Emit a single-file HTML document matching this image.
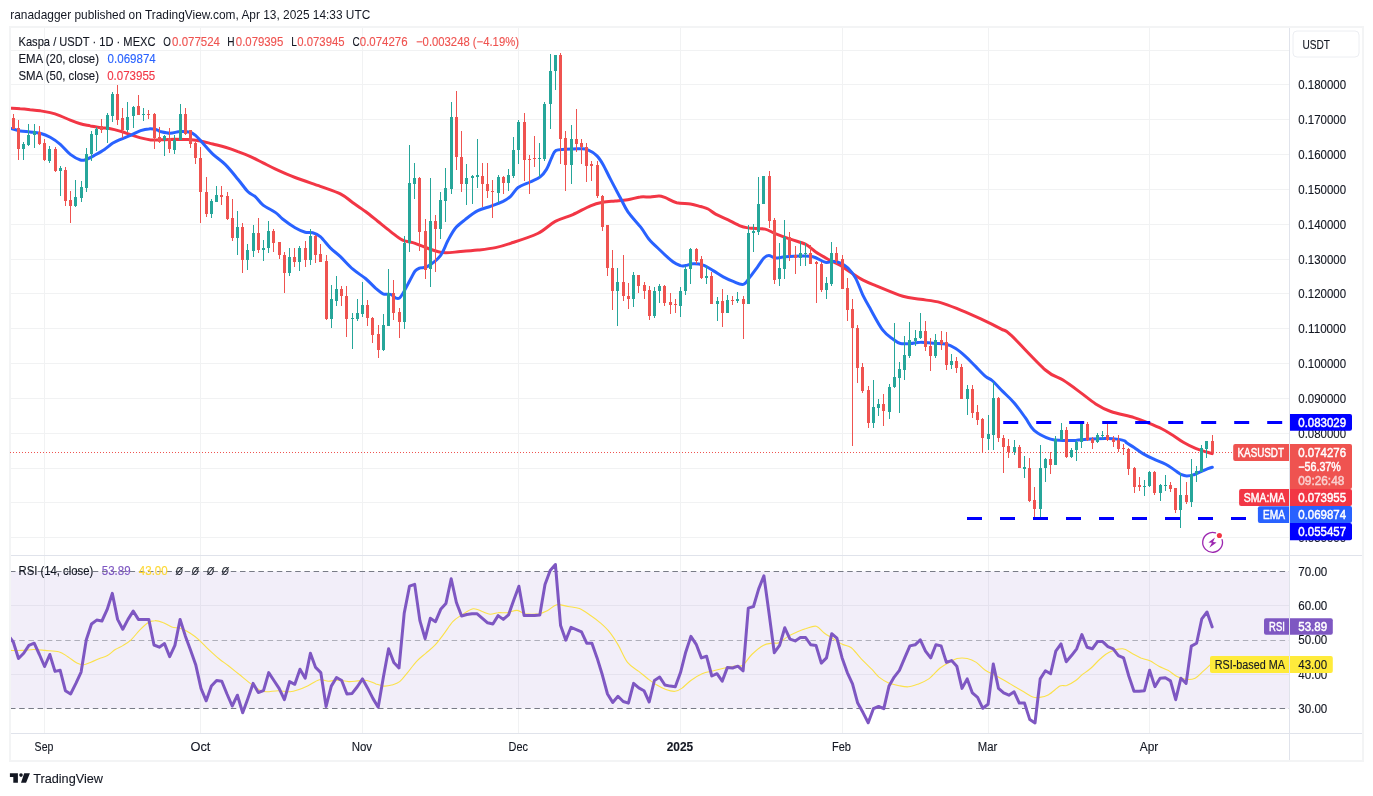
<!DOCTYPE html><html><head><meta charset="utf-8"><style>html,body{margin:0;padding:0;background:#fff;width:1373px;height:796px;overflow:hidden}text{white-space:pre}svg{will-change:transform}</style></head><body><svg width="1373" height="796" viewBox="0 0 1373 796" style="position:absolute;left:0;top:0;display:block">
<defs><clipPath id="cp"><rect x="11" y="28" width="1278.5" height="527"/></clipPath><clipPath id="cr"><rect x="11" y="556" width="1278.5" height="177"/></clipPath></defs>
<rect width="1373" height="796" fill="#fff"/>
<line x1="44.5" y1="27" x2="44.5" y2="733" stroke="#f1f2f3" stroke-width="1"/>
<line x1="200.5" y1="27" x2="200.5" y2="733" stroke="#f1f2f3" stroke-width="1"/>
<line x1="362.5" y1="27" x2="362.5" y2="733" stroke="#f1f2f3" stroke-width="1"/>
<line x1="518.5" y1="27" x2="518.5" y2="733" stroke="#f1f2f3" stroke-width="1"/>
<line x1="680.5" y1="27" x2="680.5" y2="733" stroke="#f1f2f3" stroke-width="1"/>
<line x1="842.5" y1="27" x2="842.5" y2="733" stroke="#f1f2f3" stroke-width="1"/>
<line x1="988.5" y1="27" x2="988.5" y2="733" stroke="#f1f2f3" stroke-width="1"/>
<line x1="1149.5" y1="27" x2="1149.5" y2="733" stroke="#f1f2f3" stroke-width="1"/>
<line x1="10" y1="537.5" x2="1289" y2="537.5" stroke="#f1f2f3" stroke-width="1"/>
<line x1="10" y1="502.5" x2="1289" y2="502.5" stroke="#f1f2f3" stroke-width="1"/>
<line x1="10" y1="468.5" x2="1289" y2="468.5" stroke="#f1f2f3" stroke-width="1"/>
<line x1="10" y1="433.5" x2="1289" y2="433.5" stroke="#f1f2f3" stroke-width="1"/>
<line x1="10" y1="398.5" x2="1289" y2="398.5" stroke="#f1f2f3" stroke-width="1"/>
<line x1="10" y1="363.5" x2="1289" y2="363.5" stroke="#f1f2f3" stroke-width="1"/>
<line x1="10" y1="328.5" x2="1289" y2="328.5" stroke="#f1f2f3" stroke-width="1"/>
<line x1="10" y1="293.5" x2="1289" y2="293.5" stroke="#f1f2f3" stroke-width="1"/>
<line x1="10" y1="259.5" x2="1289" y2="259.5" stroke="#f1f2f3" stroke-width="1"/>
<line x1="10" y1="224.5" x2="1289" y2="224.5" stroke="#f1f2f3" stroke-width="1"/>
<line x1="10" y1="189.5" x2="1289" y2="189.5" stroke="#f1f2f3" stroke-width="1"/>
<line x1="10" y1="154.5" x2="1289" y2="154.5" stroke="#f1f2f3" stroke-width="1"/>
<line x1="10" y1="119.5" x2="1289" y2="119.5" stroke="#f1f2f3" stroke-width="1"/>
<line x1="10" y1="84.5" x2="1289" y2="84.5" stroke="#f1f2f3" stroke-width="1"/>
<line x1="10" y1="50.5" x2="1289" y2="50.5" stroke="#f1f2f3" stroke-width="1"/>
<line x1="10" y1="674.5" x2="1289" y2="674.5" stroke="#f1f2f3" stroke-width="1"/>
<line x1="10" y1="605.5" x2="1289" y2="605.5" stroke="#f1f2f3" stroke-width="1"/>
<rect x="10.5" y="571.5" width="1279" height="137" fill="#7e57c2" fill-opacity="0.1"/>
<line x1="10" y1="571.5" x2="1289" y2="571.5" stroke="#787b86" stroke-opacity="1" stroke-width="1" stroke-dasharray="5.5,3.7"/>
<line x1="10" y1="640.5" x2="1289" y2="640.5" stroke="#787b86" stroke-opacity="0.55" stroke-width="1" stroke-dasharray="5.5,3.7"/>
<line x1="10" y1="708.5" x2="1289" y2="708.5" stroke="#787b86" stroke-opacity="1" stroke-width="1" stroke-dasharray="5.5,3.7"/>
<rect x="10" y="27" width="1353" height="734" fill="none" stroke="#f3f4f5" stroke-width="2"/>
<line x1="1289.5" y1="28" x2="1289.5" y2="760" stroke="#e0e3eb" stroke-width="1"/>
<line x1="11" y1="555.5" x2="1362" y2="555.5" stroke="#e0e3eb" stroke-width="1"/>
<line x1="11" y1="733.5" x2="1362" y2="733.5" stroke="#e0e3eb" stroke-width="1"/>
<line x1="10" y1="452.5" x2="1289" y2="452.5" stroke="#ef5350" stroke-width="1" stroke-dasharray="1,2"/>
<g clip-path="url(#cp)" fill="none" stroke-linejoin="round" stroke-linecap="round">
<path d="M10.4,108.2 C12.1,108.3 16.8,108.5 20.1,108.8 C23.4,109.0 26.8,109.4 30.1,109.8 C33.5,110.1 36.8,110.3 40.2,110.8 C43.5,111.3 46.9,111.8 50.2,112.6 C53.6,113.4 56.9,114.5 60.3,115.8 C63.6,117.1 67.0,118.9 70.3,120.2 C73.7,121.6 77.0,122.9 80.4,123.8 C83.7,124.8 87.1,125.2 90.4,125.9 C93.8,126.5 97.1,127.2 100.5,127.7 C103.8,128.1 107.2,128.1 110.5,128.7 C113.9,129.3 117.2,130.3 120.6,131.3 C123.9,132.3 127.3,133.6 130.6,134.7 C133.9,135.8 137.3,137.0 140.6,137.9 C144.0,138.8 147.0,139.6 150.7,139.9 C154.3,140.2 158.5,139.9 162.6,139.7 C166.6,139.6 170.9,139.3 175.1,139.2 C179.3,139.2 183.5,139.2 187.7,139.5 C191.9,139.8 196.1,140.3 200.3,141.0 C204.4,141.8 208.6,143.0 212.8,144.0 C217.0,145.1 221.2,146.0 225.4,147.3 C229.6,148.5 233.8,150.0 237.9,151.6 C242.1,153.1 246.3,154.7 250.5,156.6 C254.7,158.5 258.9,160.8 263.1,162.9 C267.3,165.0 270.3,166.7 275.6,169.1 C281.0,171.6 287.7,174.7 295.1,177.5 C302.6,180.4 312.7,183.6 320.3,186.3 C327.8,189.1 334.9,191.1 340.4,193.9 C345.8,196.6 348.7,199.7 352.9,202.7 C357.1,205.6 361.3,208.3 365.5,211.5 C369.7,214.6 373.9,218.2 378.0,221.5 C382.2,224.9 386.5,228.5 390.6,231.6 C394.7,234.6 398.5,238.1 402.6,240.1 C406.6,242.0 410.9,241.9 415.1,243.3 C419.3,244.7 423.1,246.8 427.7,248.3 C432.3,249.9 437.3,252.1 442.8,252.6 C448.2,253.2 454.5,252.0 460.4,251.6 C466.2,251.2 472.1,250.8 477.9,250.1 C483.8,249.4 490.1,248.7 495.5,247.6 C501.0,246.5 503.6,245.7 510.6,243.3 C517.6,241.0 530.2,237.1 537.7,233.5 C545.1,229.8 549.4,224.5 555.3,221.4 C561.1,218.3 567.0,217.2 572.9,214.6 C578.7,212.0 585.5,207.9 590.5,205.8 C595.4,203.8 598.5,203.1 602.6,202.3 C606.7,201.5 610.9,201.4 615.1,201.0 C619.3,200.6 623.5,200.4 627.7,199.7 C631.9,199.1 636.5,197.4 640.3,197.0 C644.0,196.5 647.2,197.2 650.3,197.0 C653.4,196.8 656.6,195.9 659.1,196.0 C661.6,196.1 662.4,196.6 665.4,197.7 C668.3,198.9 672.5,201.7 676.7,202.8 C680.9,203.8 686.5,203.4 690.5,204.0 C694.5,204.6 697.6,205.7 700.6,206.5 C703.5,207.4 705.6,207.8 708.1,209.0 C710.6,210.3 712.3,212.3 715.6,214.1 C719.0,215.9 724.0,217.8 728.2,219.8 C732.4,221.9 737.4,224.8 740.8,226.1 C744.1,227.5 746.3,227.5 748.3,227.9 C750.3,228.3 749.8,228.1 752.6,228.3 C755.4,228.5 761.4,228.2 765.1,229.1 C768.9,230.0 771.0,231.9 775.2,233.6 C779.4,235.3 785.2,237.4 790.3,239.1 C795.3,240.9 801.1,242.1 805.3,244.2 C809.5,246.3 811.6,249.2 815.4,251.7 C819.1,254.2 823.8,256.9 827.9,259.2 C832.1,261.5 836.7,263.4 840.5,265.5 C844.3,267.7 846.8,269.9 850.6,272.3 C854.3,274.7 858.9,277.9 863.1,280.1 C867.3,282.3 869.0,282.9 875.7,285.6 C882.3,288.3 895.4,294.0 902.9,296.3 C910.4,298.6 914.2,298.2 920.5,299.3 C926.8,300.3 933.9,300.8 940.6,302.6 C947.3,304.4 954.0,307.4 960.7,310.1 C967.4,312.8 974.1,315.8 980.8,318.9 C987.5,322.0 995.9,326.2 1000.9,328.9 C1005.9,331.7 1003.5,328.4 1011.0,335.2 C1018.4,342.1 1036.8,362.5 1045.4,370.0 C1054.1,377.5 1057.2,376.3 1063.0,380.1 C1068.9,383.8 1075.2,388.6 1080.6,392.6 C1086.0,396.6 1090.7,400.8 1095.7,403.9 C1100.7,407.1 1104.4,409.2 1110.8,411.5 C1117.2,413.7 1127.8,415.7 1134.1,417.6 C1140.3,419.5 1143.4,421.0 1148.1,422.9 C1152.8,424.8 1158.1,427.0 1162.2,429.0 C1166.3,431.1 1169.2,433.0 1172.8,435.2 C1176.3,437.4 1179.5,440.0 1183.3,442.2 C1187.1,444.4 1191.8,446.8 1195.6,448.4 C1199.4,450.0 1203.4,451.0 1206.2,451.9 C1209.0,452.8 1211.3,453.3 1212.3,453.6" stroke="#f23645" stroke-width="3"/>
<path d="M10.4,128.3 C12.1,128.7 16.8,130.3 20.1,130.9 C23.4,131.5 26.8,131.5 30.1,131.9 C33.5,132.3 36.8,132.4 40.2,133.3 C43.5,134.2 46.9,135.5 50.2,137.3 C53.6,139.2 56.9,141.5 60.3,144.3 C63.6,147.2 67.0,151.8 70.3,154.4 C73.7,157.0 77.7,159.2 80.4,160.0 C83.0,160.9 84.1,160.2 86.4,159.4 C88.7,158.6 91.4,157.1 94.4,155.4 C97.4,153.7 101.5,151.4 104.5,149.4 C107.5,147.4 109.8,145.0 112.5,143.3 C115.2,141.7 117.5,140.7 120.6,139.3 C123.6,138.0 127.3,136.7 130.6,135.3 C133.9,133.9 137.6,131.8 140.6,130.7 C143.7,129.6 146.0,129.0 148.7,128.9 C151.4,128.7 154.8,129.2 156.7,129.7 C158.6,130.1 157.8,130.9 160.1,131.5 C162.3,132.0 166.8,133.2 170.1,133.2 C173.5,133.2 176.8,131.6 180.2,131.5 C183.5,131.3 187.7,131.6 190.2,132.2 C192.7,132.8 193.6,133.9 195.2,135.2 C196.9,136.6 197.3,137.1 200.3,140.3 C203.2,143.4 208.6,150.0 212.8,154.1 C217.0,158.1 221.2,160.4 225.4,164.6 C229.6,168.8 234.2,174.7 237.9,179.2 C241.7,183.7 245.1,188.8 248.0,191.8 C250.9,194.7 253.0,194.6 255.5,196.8 C258.0,199.0 259.7,202.4 263.1,205.1 C266.4,207.7 272.4,210.3 275.6,212.6 C278.9,214.9 279.3,216.5 282.6,219.0 C285.8,221.5 291.4,225.6 295.1,227.8 C298.9,230.0 302.2,231.5 305.2,232.3 C308.1,233.1 310.2,232.1 312.7,232.8 C315.2,233.5 317.3,234.1 320.3,236.6 C323.2,239.1 327.0,244.5 330.3,247.9 C333.7,251.2 336.6,253.1 340.4,256.7 C344.1,260.2 348.7,265.6 352.9,269.2 C357.1,272.9 361.7,275.4 365.5,278.5 C369.2,281.7 372.6,285.5 375.5,288.1 C378.5,290.6 380.6,292.8 383.1,293.9 C385.6,294.9 387.9,293.7 390.6,294.4 C393.3,295.1 396.1,300.5 399.4,298.1 C402.6,295.7 407.5,284.5 410.1,280.0 C412.7,275.5 413.5,273.0 415.1,271.0 C416.8,268.9 418.1,268.7 420.2,267.9 C422.2,267.2 424.3,268.4 427.7,266.4 C431.0,264.4 436.9,260.2 440.3,255.9 C443.6,251.6 445.3,245.4 447.8,240.8 C450.3,236.2 452.4,231.8 455.3,228.2 C458.3,224.7 461.6,222.4 465.4,219.4 C469.1,216.5 473.8,212.8 477.9,210.7 C482.1,208.5 486.3,207.9 490.5,206.4 C494.7,204.8 499.7,203.0 503.1,201.4 C506.4,199.7 508.1,198.6 510.6,196.3 C513.1,194.0 514.9,189.9 518.1,187.5 C521.4,185.1 526.5,183.7 530.2,182.0 C533.8,180.2 537.5,179.0 540.2,176.9 C542.9,174.8 544.6,172.5 546.5,169.4 C548.4,166.3 550.0,161.2 551.5,158.1 C553.1,154.9 553.5,152.0 555.8,150.6 C558.1,149.1 561.2,149.6 565.3,149.3 C569.4,149.0 576.6,148.7 580.4,148.8 C584.2,148.9 585.2,148.7 587.9,149.8 C590.7,150.9 594.2,153.1 596.7,155.6 C599.2,158.0 600.7,160.4 603.0,164.4 C605.3,168.4 607.6,173.8 610.6,179.4 C613.5,185.1 617.7,192.8 620.6,198.3 C623.5,203.7 624.8,207.3 628.1,212.1 C631.5,216.9 637.2,222.7 640.7,227.2 C644.2,231.7 645.8,235.3 649.0,239.2 C652.3,243.1 656.4,246.7 660.4,250.5 C664.3,254.3 669.6,259.3 672.9,261.8 C676.3,264.3 678.4,264.9 680.5,265.6 C682.5,266.2 683.4,265.9 685.5,265.6 C687.6,265.3 690.1,263.9 693.0,263.8 C695.9,263.7 699.7,263.9 703.1,265.1 C706.4,266.2 709.8,268.6 713.1,270.6 C716.5,272.6 719.8,275.1 723.2,276.9 C726.5,278.7 729.9,280.2 733.2,281.4 C736.6,282.7 740.5,285.2 743.3,284.4 C746.1,283.7 747.7,279.8 750.1,276.8 C752.4,273.9 755.3,269.9 757.6,266.8 C759.9,263.6 762.0,259.9 763.9,258.0 C765.8,256.1 767.0,255.5 768.9,255.5 C770.8,255.5 772.5,257.8 775.2,258.0 C777.9,258.2 781.0,257.1 785.2,256.7 C789.4,256.4 795.7,256.0 800.3,256.0 C804.9,256.0 808.7,255.7 812.9,256.7 C817.1,257.8 822.1,261.5 825.4,262.3 C828.8,263.0 830.5,261.1 833.0,261.3 C835.5,261.4 838.0,261.9 840.5,263.0 C843.0,264.1 845.5,265.5 848.0,268.0 C850.6,270.6 853.1,273.5 855.6,278.1 C858.1,282.7 860.7,290.6 863.1,295.7 C865.6,300.8 867.0,303.1 870.3,308.8 C873.5,314.6 879.0,325.2 882.8,330.2 C886.6,335.2 889.9,336.8 892.9,339.0 C895.8,341.2 897.5,342.8 900.4,343.5 C903.3,344.3 907.1,343.7 910.5,343.5 C913.8,343.3 916.7,342.3 920.5,342.3 C924.3,342.2 928.9,343.0 933.1,343.3 C937.3,343.6 941.9,343.1 945.6,344.0 C949.4,344.9 952.3,346.4 955.7,348.5 C959.0,350.6 962.4,353.6 965.7,356.6 C969.1,359.6 972.4,363.3 975.8,366.6 C979.1,370.0 983.1,374.4 985.8,376.7 C988.6,379.0 989.3,378.0 992.1,380.5 C994.9,382.9 999.1,387.7 1002.7,391.4 C1006.4,395.1 1010.3,398.3 1014.0,402.7 C1017.8,407.1 1022.0,413.1 1025.3,417.7 C1028.7,422.3 1029.9,426.7 1034.1,430.3 C1038.3,433.9 1045.6,437.4 1050.5,439.1 C1055.3,440.8 1058.8,440.1 1063.0,440.4 C1067.2,440.6 1071.0,440.6 1075.6,440.4 C1080.2,440.1 1085.2,439.4 1090.7,439.1 C1096.1,438.8 1102.8,438.4 1108.2,438.6 C1113.7,438.8 1120.2,439.6 1123.3,440.4 C1126.4,441.1 1125.2,441.9 1127.0,443.1 C1128.8,444.3 1131.4,445.7 1134.1,447.5 C1136.7,449.2 1139.6,451.7 1142.9,453.6 C1146.1,455.5 1149.6,457.2 1153.4,458.9 C1157.2,460.7 1161.9,462.1 1165.7,464.2 C1169.5,466.2 1173.6,469.5 1176.3,471.2 C1178.9,473.0 1179.8,474.0 1181.6,474.7 C1183.3,475.5 1184.8,476.0 1186.8,476.0 C1188.9,476.0 1191.2,475.6 1193.9,474.7 C1196.5,473.9 1200.3,471.9 1202.7,470.9 C1205.0,469.8 1206.3,469.2 1207.9,468.6 C1209.5,468.0 1211.6,467.4 1212.3,467.2" stroke="#2962ff" stroke-width="3"/>
</g>
<g clip-path="url(#cp)" shape-rendering="crispEdges">
<rect x="13" y="114" width="1" height="15" fill="#ef5350"/>
<rect x="12" y="118" width="3" height="11" fill="#ef5350"/>
<rect x="18" y="120" width="1" height="40" fill="#ef5350"/>
<rect x="17" y="128" width="3" height="21" fill="#ef5350"/>
<rect x="23" y="142" width="1" height="18" fill="#26a69a"/>
<rect x="22" y="144" width="3" height="5" fill="#26a69a"/>
<rect x="28" y="124" width="1" height="22" fill="#26a69a"/>
<rect x="27" y="135" width="3" height="10" fill="#26a69a"/>
<rect x="34" y="124" width="1" height="24" fill="#26a69a"/>
<rect x="33" y="131" width="3" height="4" fill="#26a69a"/>
<rect x="39" y="126" width="1" height="19" fill="#ef5350"/>
<rect x="38" y="132" width="3" height="12" fill="#ef5350"/>
<rect x="44" y="139" width="1" height="22" fill="#ef5350"/>
<rect x="43" y="143" width="3" height="17" fill="#ef5350"/>
<rect x="49" y="146" width="1" height="17" fill="#26a69a"/>
<rect x="48" y="149" width="3" height="12" fill="#26a69a"/>
<rect x="55" y="147" width="1" height="25" fill="#ef5350"/>
<rect x="54" y="149" width="3" height="22" fill="#ef5350"/>
<rect x="60" y="166" width="1" height="30" fill="#26a69a"/>
<rect x="59" y="168" width="3" height="3" fill="#26a69a"/>
<rect x="65" y="167" width="1" height="39" fill="#ef5350"/>
<rect x="64" y="170" width="3" height="31" fill="#ef5350"/>
<rect x="70" y="191" width="1" height="32" fill="#ef5350"/>
<rect x="69" y="200" width="3" height="6" fill="#ef5350"/>
<rect x="75" y="180" width="1" height="27" fill="#26a69a"/>
<rect x="74" y="197" width="3" height="9" fill="#26a69a"/>
<rect x="81" y="181" width="1" height="21" fill="#26a69a"/>
<rect x="80" y="187" width="3" height="11" fill="#26a69a"/>
<rect x="86" y="148" width="1" height="44" fill="#26a69a"/>
<rect x="85" y="154" width="3" height="34" fill="#26a69a"/>
<rect x="91" y="131" width="1" height="30" fill="#26a69a"/>
<rect x="90" y="134" width="3" height="20" fill="#26a69a"/>
<rect x="96" y="127" width="1" height="24" fill="#26a69a"/>
<rect x="95" y="129" width="3" height="6" fill="#26a69a"/>
<rect x="101" y="119" width="1" height="14" fill="#ef5350"/>
<rect x="100" y="126" width="3" height="4" fill="#ef5350"/>
<rect x="107" y="113" width="1" height="30" fill="#26a69a"/>
<rect x="106" y="115" width="3" height="15" fill="#26a69a"/>
<rect x="112" y="92" width="1" height="30" fill="#26a69a"/>
<rect x="111" y="94" width="3" height="22" fill="#26a69a"/>
<rect x="117" y="85" width="1" height="40" fill="#ef5350"/>
<rect x="116" y="94" width="3" height="26" fill="#ef5350"/>
<rect x="122" y="108" width="1" height="30" fill="#ef5350"/>
<rect x="121" y="118" width="3" height="12" fill="#ef5350"/>
<rect x="127" y="102" width="1" height="30" fill="#26a69a"/>
<rect x="126" y="117" width="3" height="13" fill="#26a69a"/>
<rect x="133" y="106" width="1" height="22" fill="#26a69a"/>
<rect x="132" y="107" width="3" height="9" fill="#26a69a"/>
<rect x="138" y="95" width="1" height="20" fill="#ef5350"/>
<rect x="137" y="106" width="3" height="9" fill="#ef5350"/>
<rect x="143" y="108" width="1" height="13" fill="#26a69a"/>
<rect x="142" y="114" width="3" height="1" fill="#26a69a"/>
<rect x="148" y="110" width="1" height="9" fill="#ef5350"/>
<rect x="147" y="114" width="3" height="1" fill="#ef5350"/>
<rect x="154" y="113" width="1" height="36" fill="#ef5350"/>
<rect x="153" y="114" width="3" height="24" fill="#ef5350"/>
<rect x="159" y="127" width="1" height="16" fill="#ef5350"/>
<rect x="158" y="137" width="3" height="5" fill="#ef5350"/>
<rect x="164" y="135" width="1" height="21" fill="#26a69a"/>
<rect x="163" y="136" width="3" height="4" fill="#26a69a"/>
<rect x="169" y="128" width="1" height="25" fill="#ef5350"/>
<rect x="168" y="138" width="3" height="11" fill="#ef5350"/>
<rect x="174" y="135" width="1" height="19" fill="#26a69a"/>
<rect x="173" y="140" width="3" height="10" fill="#26a69a"/>
<rect x="180" y="104" width="1" height="36" fill="#26a69a"/>
<rect x="179" y="114" width="3" height="26" fill="#26a69a"/>
<rect x="185" y="108" width="1" height="27" fill="#ef5350"/>
<rect x="184" y="114" width="3" height="20" fill="#ef5350"/>
<rect x="190" y="130" width="1" height="18" fill="#ef5350"/>
<rect x="189" y="130" width="3" height="14" fill="#ef5350"/>
<rect x="195" y="142" width="1" height="22" fill="#ef5350"/>
<rect x="194" y="143" width="3" height="15" fill="#ef5350"/>
<rect x="200" y="147" width="1" height="76" fill="#ef5350"/>
<rect x="199" y="158" width="3" height="34" fill="#ef5350"/>
<rect x="206" y="177" width="1" height="40" fill="#ef5350"/>
<rect x="205" y="192" width="3" height="22" fill="#ef5350"/>
<rect x="211" y="199" width="1" height="19" fill="#26a69a"/>
<rect x="210" y="201" width="3" height="13" fill="#26a69a"/>
<rect x="216" y="186" width="1" height="16" fill="#26a69a"/>
<rect x="215" y="195" width="3" height="7" fill="#26a69a"/>
<rect x="221" y="186" width="1" height="19" fill="#ef5350"/>
<rect x="220" y="195" width="3" height="2" fill="#ef5350"/>
<rect x="227" y="192" width="1" height="28" fill="#ef5350"/>
<rect x="226" y="196" width="3" height="23" fill="#ef5350"/>
<rect x="232" y="199" width="1" height="42" fill="#ef5350"/>
<rect x="231" y="218" width="3" height="20" fill="#ef5350"/>
<rect x="237" y="211" width="1" height="44" fill="#26a69a"/>
<rect x="236" y="227" width="3" height="11" fill="#26a69a"/>
<rect x="242" y="223" width="1" height="50" fill="#ef5350"/>
<rect x="241" y="227" width="3" height="33" fill="#ef5350"/>
<rect x="247" y="244" width="1" height="26" fill="#26a69a"/>
<rect x="246" y="250" width="3" height="10" fill="#26a69a"/>
<rect x="253" y="225" width="1" height="32" fill="#26a69a"/>
<rect x="252" y="233" width="3" height="18" fill="#26a69a"/>
<rect x="258" y="218" width="1" height="35" fill="#ef5350"/>
<rect x="257" y="233" width="3" height="17" fill="#ef5350"/>
<rect x="263" y="240" width="1" height="21" fill="#26a69a"/>
<rect x="262" y="248" width="3" height="2" fill="#26a69a"/>
<rect x="268" y="221" width="1" height="32" fill="#26a69a"/>
<rect x="267" y="231" width="3" height="17" fill="#26a69a"/>
<rect x="273" y="229" width="1" height="23" fill="#ef5350"/>
<rect x="272" y="231" width="3" height="12" fill="#ef5350"/>
<rect x="279" y="242" width="1" height="17" fill="#ef5350"/>
<rect x="278" y="242" width="3" height="13" fill="#ef5350"/>
<rect x="284" y="252" width="1" height="41" fill="#ef5350"/>
<rect x="283" y="255" width="3" height="18" fill="#ef5350"/>
<rect x="289" y="248" width="1" height="28" fill="#26a69a"/>
<rect x="288" y="257" width="3" height="16" fill="#26a69a"/>
<rect x="294" y="248" width="1" height="19" fill="#ef5350"/>
<rect x="293" y="257" width="3" height="5" fill="#ef5350"/>
<rect x="299" y="246" width="1" height="25" fill="#26a69a"/>
<rect x="298" y="248" width="3" height="14" fill="#26a69a"/>
<rect x="305" y="241" width="1" height="26" fill="#ef5350"/>
<rect x="304" y="248" width="3" height="12" fill="#ef5350"/>
<rect x="310" y="229" width="1" height="36" fill="#26a69a"/>
<rect x="309" y="236" width="3" height="24" fill="#26a69a"/>
<rect x="315" y="235" width="1" height="28" fill="#ef5350"/>
<rect x="314" y="236" width="3" height="19" fill="#ef5350"/>
<rect x="320" y="244" width="1" height="18" fill="#ef5350"/>
<rect x="319" y="254" width="3" height="8" fill="#ef5350"/>
<rect x="326" y="255" width="1" height="65" fill="#ef5350"/>
<rect x="325" y="261" width="3" height="58" fill="#ef5350"/>
<rect x="331" y="285" width="1" height="43" fill="#26a69a"/>
<rect x="330" y="299" width="3" height="20" fill="#26a69a"/>
<rect x="336" y="276" width="1" height="30" fill="#26a69a"/>
<rect x="335" y="289" width="3" height="12" fill="#26a69a"/>
<rect x="341" y="286" width="1" height="20" fill="#ef5350"/>
<rect x="340" y="289" width="3" height="7" fill="#ef5350"/>
<rect x="346" y="286" width="1" height="51" fill="#ef5350"/>
<rect x="345" y="296" width="3" height="23" fill="#ef5350"/>
<rect x="352" y="313" width="1" height="36" fill="#26a69a"/>
<rect x="351" y="318" width="3" height="1" fill="#26a69a"/>
<rect x="357" y="299" width="1" height="22" fill="#26a69a"/>
<rect x="356" y="313" width="3" height="6" fill="#26a69a"/>
<rect x="362" y="282" width="1" height="35" fill="#26a69a"/>
<rect x="361" y="305" width="3" height="9" fill="#26a69a"/>
<rect x="367" y="300" width="1" height="26" fill="#ef5350"/>
<rect x="366" y="305" width="3" height="13" fill="#ef5350"/>
<rect x="372" y="317" width="1" height="26" fill="#ef5350"/>
<rect x="371" y="318" width="3" height="17" fill="#ef5350"/>
<rect x="378" y="325" width="1" height="33" fill="#ef5350"/>
<rect x="377" y="334" width="3" height="16" fill="#ef5350"/>
<rect x="383" y="314" width="1" height="37" fill="#26a69a"/>
<rect x="382" y="325" width="3" height="25" fill="#26a69a"/>
<rect x="388" y="269" width="1" height="57" fill="#26a69a"/>
<rect x="387" y="293" width="3" height="33" fill="#26a69a"/>
<rect x="393" y="280" width="1" height="40" fill="#ef5350"/>
<rect x="392" y="293" width="3" height="20" fill="#ef5350"/>
<rect x="399" y="308" width="1" height="30" fill="#ef5350"/>
<rect x="398" y="312" width="3" height="10" fill="#ef5350"/>
<rect x="404" y="236" width="1" height="93" fill="#26a69a"/>
<rect x="403" y="243" width="3" height="79" fill="#26a69a"/>
<rect x="409" y="145" width="1" height="107" fill="#26a69a"/>
<rect x="408" y="183" width="3" height="60" fill="#26a69a"/>
<rect x="414" y="163" width="1" height="36" fill="#26a69a"/>
<rect x="413" y="178" width="3" height="6" fill="#26a69a"/>
<rect x="419" y="177" width="1" height="74" fill="#ef5350"/>
<rect x="418" y="178" width="3" height="54" fill="#ef5350"/>
<rect x="425" y="219" width="1" height="60" fill="#ef5350"/>
<rect x="424" y="231" width="3" height="39" fill="#ef5350"/>
<rect x="430" y="178" width="1" height="109" fill="#26a69a"/>
<rect x="429" y="221" width="3" height="48" fill="#26a69a"/>
<rect x="435" y="215" width="1" height="57" fill="#ef5350"/>
<rect x="434" y="221" width="3" height="8" fill="#ef5350"/>
<rect x="440" y="192" width="1" height="47" fill="#26a69a"/>
<rect x="439" y="200" width="3" height="29" fill="#26a69a"/>
<rect x="445" y="168" width="1" height="54" fill="#26a69a"/>
<rect x="444" y="188" width="3" height="13" fill="#26a69a"/>
<rect x="451" y="102" width="1" height="92" fill="#26a69a"/>
<rect x="450" y="117" width="3" height="72" fill="#26a69a"/>
<rect x="456" y="91" width="1" height="79" fill="#ef5350"/>
<rect x="455" y="117" width="3" height="40" fill="#ef5350"/>
<rect x="461" y="131" width="1" height="61" fill="#ef5350"/>
<rect x="460" y="157" width="3" height="27" fill="#ef5350"/>
<rect x="466" y="164" width="1" height="41" fill="#26a69a"/>
<rect x="465" y="178" width="3" height="6" fill="#26a69a"/>
<rect x="472" y="175" width="1" height="29" fill="#26a69a"/>
<rect x="471" y="176" width="3" height="2" fill="#26a69a"/>
<rect x="477" y="139" width="1" height="49" fill="#26a69a"/>
<rect x="476" y="175" width="3" height="2" fill="#26a69a"/>
<rect x="482" y="163" width="1" height="44" fill="#ef5350"/>
<rect x="481" y="176" width="3" height="8" fill="#ef5350"/>
<rect x="487" y="163" width="1" height="35" fill="#ef5350"/>
<rect x="486" y="184" width="3" height="7" fill="#ef5350"/>
<rect x="492" y="180" width="1" height="38" fill="#ef5350"/>
<rect x="491" y="191" width="3" height="1" fill="#ef5350"/>
<rect x="498" y="175" width="1" height="28" fill="#26a69a"/>
<rect x="497" y="177" width="3" height="16" fill="#26a69a"/>
<rect x="503" y="176" width="1" height="18" fill="#ef5350"/>
<rect x="502" y="177" width="3" height="6" fill="#ef5350"/>
<rect x="508" y="169" width="1" height="22" fill="#26a69a"/>
<rect x="507" y="175" width="3" height="8" fill="#26a69a"/>
<rect x="513" y="137" width="1" height="41" fill="#26a69a"/>
<rect x="512" y="150" width="3" height="26" fill="#26a69a"/>
<rect x="518" y="120" width="1" height="44" fill="#26a69a"/>
<rect x="517" y="122" width="3" height="28" fill="#26a69a"/>
<rect x="524" y="113" width="1" height="68" fill="#ef5350"/>
<rect x="523" y="122" width="3" height="38" fill="#ef5350"/>
<rect x="529" y="155" width="1" height="39" fill="#ef5350"/>
<rect x="528" y="159" width="3" height="1" fill="#ef5350"/>
<rect x="534" y="136" width="1" height="31" fill="#ef5350"/>
<rect x="533" y="158" width="3" height="1" fill="#ef5350"/>
<rect x="539" y="143" width="1" height="34" fill="#26a69a"/>
<rect x="538" y="158" width="3" height="1" fill="#26a69a"/>
<rect x="544" y="102" width="1" height="59" fill="#26a69a"/>
<rect x="543" y="104" width="3" height="55" fill="#26a69a"/>
<rect x="550" y="54" width="1" height="75" fill="#26a69a"/>
<rect x="549" y="71" width="3" height="33" fill="#26a69a"/>
<rect x="555" y="55" width="1" height="35" fill="#26a69a"/>
<rect x="554" y="55" width="3" height="16" fill="#26a69a"/>
<rect x="560" y="53" width="1" height="111" fill="#ef5350"/>
<rect x="559" y="55" width="3" height="84" fill="#ef5350"/>
<rect x="565" y="131" width="1" height="60" fill="#ef5350"/>
<rect x="564" y="138" width="3" height="27" fill="#ef5350"/>
<rect x="571" y="125" width="1" height="59" fill="#26a69a"/>
<rect x="570" y="139" width="3" height="26" fill="#26a69a"/>
<rect x="576" y="109" width="1" height="43" fill="#ef5350"/>
<rect x="575" y="139" width="3" height="5" fill="#ef5350"/>
<rect x="581" y="139" width="1" height="25" fill="#ef5350"/>
<rect x="580" y="143" width="3" height="4" fill="#ef5350"/>
<rect x="586" y="143" width="1" height="39" fill="#ef5350"/>
<rect x="585" y="147" width="3" height="19" fill="#ef5350"/>
<rect x="591" y="161" width="1" height="20" fill="#ef5350"/>
<rect x="590" y="164" width="3" height="2" fill="#ef5350"/>
<rect x="597" y="161" width="1" height="37" fill="#ef5350"/>
<rect x="596" y="165" width="3" height="31" fill="#ef5350"/>
<rect x="602" y="195" width="1" height="36" fill="#ef5350"/>
<rect x="601" y="196" width="3" height="31" fill="#ef5350"/>
<rect x="607" y="225" width="1" height="51" fill="#ef5350"/>
<rect x="606" y="225" width="3" height="43" fill="#ef5350"/>
<rect x="612" y="250" width="1" height="60" fill="#ef5350"/>
<rect x="611" y="268" width="3" height="23" fill="#ef5350"/>
<rect x="617" y="268" width="1" height="58" fill="#26a69a"/>
<rect x="616" y="282" width="3" height="9" fill="#26a69a"/>
<rect x="623" y="255" width="1" height="46" fill="#ef5350"/>
<rect x="622" y="282" width="3" height="14" fill="#ef5350"/>
<rect x="628" y="283" width="1" height="26" fill="#ef5350"/>
<rect x="627" y="296" width="3" height="3" fill="#ef5350"/>
<rect x="633" y="272" width="1" height="35" fill="#26a69a"/>
<rect x="632" y="275" width="3" height="24" fill="#26a69a"/>
<rect x="638" y="275" width="1" height="18" fill="#ef5350"/>
<rect x="637" y="275" width="3" height="11" fill="#ef5350"/>
<rect x="644" y="282" width="1" height="17" fill="#ef5350"/>
<rect x="643" y="285" width="3" height="6" fill="#ef5350"/>
<rect x="649" y="286" width="1" height="34" fill="#ef5350"/>
<rect x="648" y="290" width="3" height="26" fill="#ef5350"/>
<rect x="654" y="287" width="1" height="31" fill="#26a69a"/>
<rect x="653" y="291" width="3" height="25" fill="#26a69a"/>
<rect x="659" y="284" width="1" height="19" fill="#26a69a"/>
<rect x="658" y="286" width="3" height="5" fill="#26a69a"/>
<rect x="664" y="285" width="1" height="21" fill="#ef5350"/>
<rect x="663" y="286" width="3" height="17" fill="#ef5350"/>
<rect x="670" y="293" width="1" height="21" fill="#ef5350"/>
<rect x="669" y="302" width="3" height="3" fill="#ef5350"/>
<rect x="675" y="299" width="1" height="14" fill="#ef5350"/>
<rect x="674" y="304" width="3" height="1" fill="#ef5350"/>
<rect x="680" y="287" width="1" height="30" fill="#26a69a"/>
<rect x="679" y="291" width="3" height="15" fill="#26a69a"/>
<rect x="685" y="266" width="1" height="29" fill="#26a69a"/>
<rect x="684" y="269" width="3" height="22" fill="#26a69a"/>
<rect x="690" y="248" width="1" height="36" fill="#26a69a"/>
<rect x="689" y="249" width="3" height="20" fill="#26a69a"/>
<rect x="696" y="248" width="1" height="16" fill="#ef5350"/>
<rect x="695" y="249" width="3" height="12" fill="#ef5350"/>
<rect x="701" y="256" width="1" height="23" fill="#ef5350"/>
<rect x="700" y="259" width="3" height="19" fill="#ef5350"/>
<rect x="706" y="266" width="1" height="18" fill="#26a69a"/>
<rect x="705" y="276" width="3" height="2" fill="#26a69a"/>
<rect x="711" y="272" width="1" height="32" fill="#ef5350"/>
<rect x="710" y="276" width="3" height="28" fill="#ef5350"/>
<rect x="717" y="297" width="1" height="24" fill="#26a69a"/>
<rect x="716" y="301" width="3" height="3" fill="#26a69a"/>
<rect x="722" y="289" width="1" height="38" fill="#ef5350"/>
<rect x="721" y="301" width="3" height="12" fill="#ef5350"/>
<rect x="727" y="295" width="1" height="18" fill="#26a69a"/>
<rect x="726" y="300" width="3" height="13" fill="#26a69a"/>
<rect x="732" y="296" width="1" height="9" fill="#ef5350"/>
<rect x="731" y="300" width="3" height="1" fill="#ef5350"/>
<rect x="737" y="292" width="1" height="11" fill="#26a69a"/>
<rect x="736" y="299" width="3" height="2" fill="#26a69a"/>
<rect x="743" y="296" width="1" height="43" fill="#ef5350"/>
<rect x="742" y="299" width="3" height="5" fill="#ef5350"/>
<rect x="748" y="225" width="1" height="79" fill="#26a69a"/>
<rect x="747" y="233" width="3" height="71" fill="#26a69a"/>
<rect x="753" y="224" width="1" height="28" fill="#26a69a"/>
<rect x="752" y="231" width="3" height="2" fill="#26a69a"/>
<rect x="758" y="177" width="1" height="58" fill="#26a69a"/>
<rect x="757" y="204" width="3" height="28" fill="#26a69a"/>
<rect x="763" y="176" width="1" height="28" fill="#26a69a"/>
<rect x="762" y="176" width="3" height="28" fill="#26a69a"/>
<rect x="769" y="171" width="1" height="57" fill="#ef5350"/>
<rect x="768" y="176" width="3" height="45" fill="#ef5350"/>
<rect x="774" y="218" width="1" height="66" fill="#ef5350"/>
<rect x="773" y="220" width="3" height="60" fill="#ef5350"/>
<rect x="779" y="243" width="1" height="43" fill="#26a69a"/>
<rect x="778" y="268" width="3" height="11" fill="#26a69a"/>
<rect x="784" y="220" width="1" height="59" fill="#26a69a"/>
<rect x="783" y="237" width="3" height="32" fill="#26a69a"/>
<rect x="789" y="232" width="1" height="29" fill="#ef5350"/>
<rect x="788" y="237" width="3" height="18" fill="#ef5350"/>
<rect x="795" y="246" width="1" height="28" fill="#ef5350"/>
<rect x="794" y="255" width="3" height="3" fill="#ef5350"/>
<rect x="800" y="241" width="1" height="25" fill="#26a69a"/>
<rect x="799" y="253" width="3" height="5" fill="#26a69a"/>
<rect x="805" y="243" width="1" height="23" fill="#26a69a"/>
<rect x="804" y="253" width="3" height="1" fill="#26a69a"/>
<rect x="810" y="245" width="1" height="19" fill="#ef5350"/>
<rect x="809" y="253" width="3" height="11" fill="#ef5350"/>
<rect x="816" y="261" width="1" height="42" fill="#ef5350"/>
<rect x="815" y="262" width="3" height="2" fill="#ef5350"/>
<rect x="821" y="262" width="1" height="30" fill="#ef5350"/>
<rect x="820" y="264" width="3" height="26" fill="#ef5350"/>
<rect x="826" y="277" width="1" height="22" fill="#26a69a"/>
<rect x="825" y="283" width="3" height="7" fill="#26a69a"/>
<rect x="831" y="242" width="1" height="44" fill="#26a69a"/>
<rect x="830" y="253" width="3" height="31" fill="#26a69a"/>
<rect x="836" y="247" width="1" height="17" fill="#ef5350"/>
<rect x="835" y="253" width="3" height="8" fill="#ef5350"/>
<rect x="842" y="255" width="1" height="34" fill="#ef5350"/>
<rect x="841" y="259" width="3" height="30" fill="#ef5350"/>
<rect x="847" y="278" width="1" height="43" fill="#ef5350"/>
<rect x="846" y="288" width="3" height="22" fill="#ef5350"/>
<rect x="852" y="299" width="1" height="147" fill="#ef5350"/>
<rect x="851" y="309" width="3" height="19" fill="#ef5350"/>
<rect x="857" y="325" width="1" height="58" fill="#ef5350"/>
<rect x="856" y="328" width="3" height="40" fill="#ef5350"/>
<rect x="862" y="363" width="1" height="30" fill="#ef5350"/>
<rect x="861" y="367" width="3" height="24" fill="#ef5350"/>
<rect x="868" y="386" width="1" height="42" fill="#ef5350"/>
<rect x="867" y="390" width="3" height="33" fill="#ef5350"/>
<rect x="873" y="380" width="1" height="48" fill="#26a69a"/>
<rect x="872" y="407" width="3" height="16" fill="#26a69a"/>
<rect x="878" y="399" width="1" height="17" fill="#26a69a"/>
<rect x="877" y="404" width="3" height="4" fill="#26a69a"/>
<rect x="883" y="394" width="1" height="32" fill="#ef5350"/>
<rect x="882" y="404" width="3" height="7" fill="#ef5350"/>
<rect x="889" y="384" width="1" height="35" fill="#26a69a"/>
<rect x="888" y="387" width="3" height="25" fill="#26a69a"/>
<rect x="894" y="323" width="1" height="65" fill="#26a69a"/>
<rect x="893" y="377" width="3" height="10" fill="#26a69a"/>
<rect x="899" y="362" width="1" height="51" fill="#26a69a"/>
<rect x="898" y="369" width="3" height="9" fill="#26a69a"/>
<rect x="904" y="336" width="1" height="44" fill="#26a69a"/>
<rect x="903" y="355" width="3" height="15" fill="#26a69a"/>
<rect x="909" y="322" width="1" height="36" fill="#26a69a"/>
<rect x="908" y="340" width="3" height="16" fill="#26a69a"/>
<rect x="915" y="330" width="1" height="16" fill="#26a69a"/>
<rect x="914" y="338" width="3" height="3" fill="#26a69a"/>
<rect x="920" y="313" width="1" height="26" fill="#26a69a"/>
<rect x="919" y="331" width="3" height="7" fill="#26a69a"/>
<rect x="925" y="321" width="1" height="30" fill="#ef5350"/>
<rect x="924" y="331" width="3" height="16" fill="#ef5350"/>
<rect x="930" y="338" width="1" height="33" fill="#ef5350"/>
<rect x="929" y="346" width="3" height="10" fill="#ef5350"/>
<rect x="935" y="334" width="1" height="24" fill="#26a69a"/>
<rect x="934" y="340" width="3" height="16" fill="#26a69a"/>
<rect x="941" y="331" width="1" height="19" fill="#ef5350"/>
<rect x="940" y="340" width="3" height="4" fill="#ef5350"/>
<rect x="946" y="332" width="1" height="38" fill="#ef5350"/>
<rect x="945" y="342" width="3" height="23" fill="#ef5350"/>
<rect x="951" y="354" width="1" height="15" fill="#26a69a"/>
<rect x="950" y="361" width="3" height="4" fill="#26a69a"/>
<rect x="956" y="357" width="1" height="16" fill="#ef5350"/>
<rect x="955" y="361" width="3" height="7" fill="#ef5350"/>
<rect x="961" y="364" width="1" height="35" fill="#ef5350"/>
<rect x="960" y="367" width="3" height="32" fill="#ef5350"/>
<rect x="967" y="385" width="1" height="30" fill="#26a69a"/>
<rect x="966" y="389" width="3" height="10" fill="#26a69a"/>
<rect x="972" y="385" width="1" height="33" fill="#ef5350"/>
<rect x="971" y="389" width="3" height="24" fill="#ef5350"/>
<rect x="977" y="405" width="1" height="20" fill="#ef5350"/>
<rect x="976" y="412" width="3" height="8" fill="#ef5350"/>
<rect x="982" y="418" width="1" height="35" fill="#ef5350"/>
<rect x="981" y="419" width="3" height="19" fill="#ef5350"/>
<rect x="988" y="415" width="1" height="35" fill="#26a69a"/>
<rect x="987" y="434" width="3" height="5" fill="#26a69a"/>
<rect x="993" y="382" width="1" height="68" fill="#26a69a"/>
<rect x="992" y="398" width="3" height="37" fill="#26a69a"/>
<rect x="998" y="397" width="1" height="45" fill="#ef5350"/>
<rect x="997" y="398" width="3" height="40" fill="#ef5350"/>
<rect x="1003" y="435" width="1" height="38" fill="#ef5350"/>
<rect x="1002" y="438" width="3" height="9" fill="#ef5350"/>
<rect x="1008" y="439" width="1" height="19" fill="#ef5350"/>
<rect x="1007" y="446" width="3" height="6" fill="#ef5350"/>
<rect x="1014" y="440" width="1" height="15" fill="#26a69a"/>
<rect x="1013" y="447" width="3" height="5" fill="#26a69a"/>
<rect x="1019" y="445" width="1" height="23" fill="#ef5350"/>
<rect x="1018" y="447" width="3" height="21" fill="#ef5350"/>
<rect x="1024" y="456" width="1" height="22" fill="#26a69a"/>
<rect x="1023" y="467" width="3" height="2" fill="#26a69a"/>
<rect x="1029" y="458" width="1" height="44" fill="#ef5350"/>
<rect x="1028" y="468" width="3" height="33" fill="#ef5350"/>
<rect x="1034" y="487" width="1" height="30" fill="#ef5350"/>
<rect x="1033" y="500" width="3" height="9" fill="#ef5350"/>
<rect x="1040" y="445" width="1" height="72" fill="#26a69a"/>
<rect x="1039" y="468" width="3" height="41" fill="#26a69a"/>
<rect x="1045" y="458" width="1" height="24" fill="#26a69a"/>
<rect x="1044" y="459" width="3" height="9" fill="#26a69a"/>
<rect x="1050" y="452" width="1" height="22" fill="#ef5350"/>
<rect x="1049" y="459" width="3" height="6" fill="#ef5350"/>
<rect x="1055" y="436" width="1" height="29" fill="#26a69a"/>
<rect x="1054" y="439" width="3" height="26" fill="#26a69a"/>
<rect x="1061" y="423" width="1" height="17" fill="#26a69a"/>
<rect x="1060" y="430" width="3" height="10" fill="#26a69a"/>
<rect x="1066" y="427" width="1" height="31" fill="#ef5350"/>
<rect x="1065" y="430" width="3" height="27" fill="#ef5350"/>
<rect x="1071" y="448" width="1" height="10" fill="#26a69a"/>
<rect x="1070" y="450" width="3" height="7" fill="#26a69a"/>
<rect x="1076" y="440" width="1" height="21" fill="#26a69a"/>
<rect x="1075" y="442" width="3" height="8" fill="#26a69a"/>
<rect x="1081" y="423" width="1" height="25" fill="#26a69a"/>
<rect x="1080" y="424" width="3" height="18" fill="#26a69a"/>
<rect x="1087" y="422" width="1" height="19" fill="#ef5350"/>
<rect x="1086" y="424" width="3" height="16" fill="#ef5350"/>
<rect x="1092" y="437" width="1" height="12" fill="#ef5350"/>
<rect x="1091" y="439" width="3" height="4" fill="#ef5350"/>
<rect x="1097" y="433" width="1" height="10" fill="#26a69a"/>
<rect x="1096" y="435" width="3" height="7" fill="#26a69a"/>
<rect x="1102" y="431" width="1" height="8" fill="#26a69a"/>
<rect x="1101" y="435" width="3" height="1" fill="#26a69a"/>
<rect x="1107" y="424" width="1" height="17" fill="#ef5350"/>
<rect x="1106" y="435" width="3" height="5" fill="#ef5350"/>
<rect x="1113" y="436" width="1" height="11" fill="#ef5350"/>
<rect x="1112" y="439" width="3" height="3" fill="#ef5350"/>
<rect x="1118" y="435" width="1" height="17" fill="#ef5350"/>
<rect x="1117" y="440" width="3" height="9" fill="#ef5350"/>
<rect x="1123" y="444" width="1" height="11" fill="#ef5350"/>
<rect x="1122" y="448" width="3" height="1" fill="#ef5350"/>
<rect x="1128" y="448" width="1" height="27" fill="#ef5350"/>
<rect x="1127" y="449" width="3" height="20" fill="#ef5350"/>
<rect x="1134" y="467" width="1" height="26" fill="#ef5350"/>
<rect x="1133" y="468" width="3" height="19" fill="#ef5350"/>
<rect x="1139" y="477" width="1" height="14" fill="#ef5350"/>
<rect x="1138" y="485" width="3" height="2" fill="#ef5350"/>
<rect x="1144" y="480" width="1" height="16" fill="#26a69a"/>
<rect x="1143" y="486" width="3" height="1" fill="#26a69a"/>
<rect x="1149" y="471" width="1" height="16" fill="#26a69a"/>
<rect x="1148" y="472" width="3" height="14" fill="#26a69a"/>
<rect x="1154" y="471" width="1" height="24" fill="#ef5350"/>
<rect x="1153" y="472" width="3" height="21" fill="#ef5350"/>
<rect x="1160" y="484" width="1" height="17" fill="#26a69a"/>
<rect x="1159" y="485" width="3" height="8" fill="#26a69a"/>
<rect x="1165" y="475" width="1" height="16" fill="#26a69a"/>
<rect x="1164" y="485" width="3" height="1" fill="#26a69a"/>
<rect x="1170" y="482" width="1" height="10" fill="#ef5350"/>
<rect x="1169" y="485" width="3" height="4" fill="#ef5350"/>
<rect x="1175" y="488" width="1" height="25" fill="#ef5350"/>
<rect x="1174" y="488" width="3" height="22" fill="#ef5350"/>
<rect x="1180" y="473" width="1" height="55" fill="#26a69a"/>
<rect x="1179" y="495" width="3" height="15" fill="#26a69a"/>
<rect x="1186" y="482" width="1" height="22" fill="#ef5350"/>
<rect x="1185" y="495" width="3" height="7" fill="#ef5350"/>
<rect x="1191" y="459" width="1" height="48" fill="#26a69a"/>
<rect x="1190" y="474" width="3" height="28" fill="#26a69a"/>
<rect x="1196" y="466" width="1" height="16" fill="#26a69a"/>
<rect x="1195" y="471" width="3" height="3" fill="#26a69a"/>
<rect x="1201" y="445" width="1" height="27" fill="#26a69a"/>
<rect x="1200" y="448" width="3" height="24" fill="#26a69a"/>
<rect x="1206" y="441" width="1" height="17" fill="#26a69a"/>
<rect x="1205" y="441" width="3" height="8" fill="#26a69a"/>
<rect x="1212" y="435" width="1" height="18" fill="#ef5350"/>
<rect x="1211" y="441" width="3" height="11" fill="#ef5350"/>
</g>
<g clip-path="url(#cp)" fill="none">
<line x1="1003.2" y1="422.5" x2="1285" y2="422.5" stroke="#0000ff" stroke-width="3" stroke-dasharray="15,18" stroke-linecap="butt"/>
<line x1="967" y1="518.5" x2="1247" y2="518.5" stroke="#0000ff" stroke-width="3" stroke-dasharray="15,18" stroke-linecap="butt"/>
</g>
<g clip-path="url(#cr)" fill="none" stroke-linejoin="round" stroke-linecap="round">
<path d="M9.9,650.4 C12.1,650.4 18.6,650.6 22.6,650.4 C26.6,650.3 30.1,649.5 33.9,649.5 C37.7,649.5 41.1,650.0 45.2,650.4 C49.4,650.8 55.0,650.7 58.8,651.8 C62.6,652.8 64.8,654.9 67.8,656.7 C70.8,658.6 74.2,661.8 76.9,663.1 C79.5,664.4 81.4,664.8 83.7,664.7 C85.9,664.5 87.8,663.4 90.4,662.4 C93.1,661.4 96.7,659.7 99.5,658.5 C102.3,657.4 104.8,657.1 107.4,655.6 C110.0,654.1 112.7,651.2 115.3,649.5 C117.9,647.8 120.6,647.1 123.2,645.4 C125.9,643.8 128.3,642.4 131.1,639.8 C134.0,637.1 137.4,632.4 140.2,629.6 C143.0,626.8 145.6,624.3 148.1,622.8 C150.5,621.3 152.4,620.6 154.9,620.6 C157.3,620.5 160.0,621.3 162.8,622.4 C165.6,623.4 168.8,625.9 171.8,626.9 C174.8,627.9 177.9,627.5 180.9,628.5 C183.9,629.5 186.9,631.1 189.9,633.0 C192.9,634.9 195.9,637.1 199.0,639.8 C202.0,642.4 204.6,645.6 208.0,648.8 C211.4,652.0 215.9,656.2 219.3,659.0 C222.7,661.8 225.0,663.1 228.4,665.8 C231.7,668.4 235.9,671.8 239.7,674.8 C243.4,677.8 247.6,681.3 251.0,683.9 C254.4,686.4 257.4,688.9 260.0,690.2 C262.6,691.5 263.8,691.7 266.8,691.8 C269.8,691.9 274.2,690.7 278.1,690.7 C282.0,690.7 286.5,692.0 290.0,691.8 C293.5,691.6 296.0,690.5 299.0,689.5 C302.1,688.5 304.7,687.3 308.1,685.7 C311.5,684.1 316.0,680.6 319.4,679.8 C322.8,679.0 325.4,681.1 328.4,681.2 C331.4,681.2 334.1,680.0 337.5,680.0 C340.9,680.1 345.4,681.5 348.8,681.6 C352.2,681.8 354.8,681.1 357.8,680.9 C360.8,680.7 363.9,680.0 366.9,680.5 C369.9,681.0 373.1,682.9 375.9,683.9 C378.7,684.8 381.2,685.9 383.8,686.1 C386.5,686.3 389.1,685.8 391.7,685.0 C394.4,684.2 397.0,683.7 399.7,681.6 C402.3,679.5 404.7,676.0 407.6,672.6 C410.4,669.2 413.6,664.5 416.6,661.3 C419.6,658.1 422.6,656.0 425.7,653.3 C428.7,650.7 431.7,648.6 434.7,645.4 C437.7,642.2 440.7,638.1 443.7,634.1 C446.8,630.2 449.8,624.9 452.8,621.7 C455.8,618.5 458.4,617.1 461.8,614.9 C465.2,612.8 469.7,609.4 473.1,608.8 C476.5,608.2 479.4,610.6 482.2,611.5 C485.0,612.4 487.5,614.0 490.1,614.2 C492.7,614.4 495.2,612.9 498.0,612.7 C500.8,612.4 503.8,613.0 507.0,612.7 C510.3,612.3 514.2,610.2 517.2,610.4 C520.2,610.6 521.6,613.2 525.1,613.8 C528.7,614.3 534.9,614.3 538.7,613.8 C542.5,613.2 544.7,611.9 547.7,610.4 C550.8,608.9 553.4,605.4 556.8,604.7 C560.2,604.1 564.3,605.9 568.1,606.5 C571.9,607.2 575.5,607.0 579.4,608.6 C583.3,610.2 587.8,613.7 591.3,616.0 C594.8,618.4 597.3,620.2 600.3,622.8 C603.4,625.5 606.4,628.1 609.4,631.9 C612.4,635.6 615.4,640.3 618.4,645.4 C621.4,650.5 624.1,658.1 627.5,662.4 C630.9,666.7 635.4,668.7 638.8,671.4 C642.2,674.1 644.8,676.4 647.8,678.7 C650.8,680.9 653.9,683.2 656.9,685.0 C659.9,686.8 662.9,688.5 665.9,689.5 C668.9,690.6 672.3,691.5 675.0,691.3 C677.6,691.1 679.1,690.2 681.7,688.4 C684.4,686.6 687.4,682.9 690.8,680.5 C694.2,678.0 698.3,675.3 702.1,673.7 C705.9,672.1 709.6,671.7 713.4,670.8 C717.2,669.8 720.9,668.9 724.7,668.0 C728.5,667.2 733.0,666.2 736.0,665.8 C739.0,665.3 740.1,667.2 742.8,665.3 C745.4,663.4 748.4,657.8 751.8,654.5 C755.2,651.2 759.7,647.3 763.1,645.4 C766.5,643.6 769.5,643.6 772.2,643.2 C774.8,642.7 776.3,643.9 779.0,642.7 C781.6,641.6 785.0,638.2 788.0,636.4 C791.0,634.6 794.0,633.2 797.0,631.9 C800.1,630.6 802.9,629.4 806.1,628.5 C809.3,627.5 813.3,625.5 816.3,626.2 C819.3,627.0 821.4,630.9 824.2,633.0 C827.0,635.1 830.2,636.8 833.2,638.7 C836.2,640.5 839.3,642.8 842.3,644.3 C845.3,645.8 848.3,645.4 851.3,647.7 C854.3,650.0 857.0,654.3 860.4,657.9 C863.7,661.5 868.5,666.0 871.7,669.2 C874.8,672.4 876.3,674.8 879.0,677.1 C881.8,679.3 884.7,681.3 888.1,682.7 C891.5,684.2 896.0,685.0 899.4,685.7 C902.8,686.4 905.4,687.0 908.4,686.8 C911.4,686.6 914.1,685.6 917.5,684.3 C920.9,683.0 925.0,681.6 928.8,678.9 C932.6,676.2 936.7,670.8 940.1,668.0 C943.5,665.3 946.3,664.0 949.1,662.4 C952.0,660.8 954.0,659.2 957.0,658.5 C960.1,657.9 964.0,657.9 967.2,658.5 C970.4,659.2 973.2,660.4 976.3,662.4 C979.3,664.4 981.9,668.0 985.3,670.3 C988.7,672.6 992.5,673.7 996.6,676.0 C1000.8,678.2 1005.7,681.2 1010.2,683.9 C1014.7,686.5 1020.0,689.6 1023.7,691.8 C1027.5,694.0 1030.1,696.0 1032.8,697.0 C1035.4,697.9 1036.9,697.8 1039.6,697.4 C1042.2,697.1 1045.2,696.6 1048.6,694.7 C1052.0,692.8 1056.9,687.7 1059.9,686.1 C1062.9,684.6 1064.1,686.4 1066.7,685.5 C1069.3,684.5 1073.2,682.3 1075.7,680.5 C1078.3,678.7 1079.5,676.9 1082.0,674.8 C1084.6,672.8 1088.1,670.7 1091.1,668.0 C1094.1,665.4 1097.1,661.6 1100.1,659.0 C1103.1,656.4 1105.4,653.9 1109.2,652.2 C1112.9,650.5 1119.0,648.6 1122.7,648.8 C1126.5,649.0 1128.8,651.8 1131.8,653.3 C1134.8,654.9 1137.8,656.6 1140.8,657.9 C1143.8,659.1 1146.9,659.4 1149.9,660.8 C1152.9,662.2 1155.9,664.7 1158.9,666.2 C1161.9,667.8 1164.9,668.6 1168.0,670.3 C1171.0,672.0 1174.0,675.1 1177.0,676.6 C1180.0,678.1 1183.0,679.1 1186.0,679.3 C1189.1,679.6 1192.3,679.5 1195.1,678.2 C1197.9,676.9 1200.6,673.6 1203.0,671.4 C1205.5,669.3 1208.7,666.2 1209.8,665.1" stroke="#fbe14a" stroke-width="1.1"/>
<path d="M8.1,635.3 L13.3,642.0 L18.5,658.5 L23.7,653.3 L28.9,645.4 L34.2,643.2 L39.4,654.5 L44.6,666.5 L49.8,654.5 L55.0,671.4 L60.2,670.3 L65.4,690.7 L70.6,694.0 L75.9,683.4 L81.1,672.1 L86.3,639.8 L91.5,624.0 L96.7,620.1 L101.9,621.0 L107.1,609.7 L112.3,593.4 L117.6,619.4 L122.8,629.2 L128.0,619.4 L133.2,611.1 L138.4,619.4 L143.6,619.4 L148.8,619.4 L154.0,645.0 L159.3,647.2 L164.5,643.6 L169.7,656.7 L174.9,645.4 L180.1,619.4 L185.3,635.9 L190.5,650.0 L195.7,664.7 L201.0,688.4 L206.2,700.8 L211.4,686.1 L216.6,680.5 L221.8,681.2 L227.0,694.0 L232.2,706.0 L237.4,695.2 L242.7,712.8 L247.9,698.6 L253.1,683.4 L258.3,692.5 L263.5,690.7 L268.7,672.6 L273.9,680.5 L279.1,688.4 L284.4,699.7 L289.6,681.6 L294.8,684.3 L300.0,669.2 L305.2,678.2 L310.4,653.3 L315.6,667.4 L320.8,672.6 L326.1,706.5 L331.3,686.1 L336.5,677.5 L341.7,680.5 L346.9,694.0 L352.1,693.4 L357.3,686.8 L362.5,678.9 L367.8,688.4 L373.0,698.6 L378.2,707.2 L383.4,677.1 L388.6,648.8 L393.8,662.4 L399.0,668.0 L404.2,613.3 L409.5,586.2 L414.7,584.4 L419.9,620.6 L425.1,638.7 L430.3,618.3 L435.5,621.7 L440.7,609.3 L445.9,603.6 L451.2,578.7 L456.4,602.5 L461.6,616.0 L466.8,614.5 L472.0,613.8 L477.2,613.8 L482.4,618.3 L487.6,622.8 L492.9,624.0 L498.1,615.6 L503.3,619.4 L508.5,614.9 L513.7,600.2 L518.9,586.2 L524.1,615.6 L529.3,615.6 L534.6,615.6 L539.8,614.9 L545.0,584.4 L550.2,570.4 L555.4,564.5 L560.6,625.5 L565.8,640.2 L571.0,627.3 L576.3,629.6 L581.5,631.9 L586.7,643.2 L591.9,643.2 L597.1,657.9 L602.3,674.8 L607.5,694.0 L612.7,702.4 L618.0,696.3 L623.2,701.5 L628.4,703.1 L633.6,683.4 L638.8,687.9 L644.0,690.7 L649.2,702.0 L654.4,680.5 L659.7,677.1 L664.9,685.0 L670.1,686.1 L675.3,686.8 L680.5,672.6 L685.7,652.2 L690.9,636.4 L696.2,644.3 L701.4,657.9 L706.6,656.3 L711.8,676.0 L717.0,673.7 L722.2,681.2 L727.4,667.4 L732.6,668.0 L737.9,666.2 L743.1,670.8 L748.3,608.1 L753.5,606.5 L758.7,588.9 L763.9,575.8 L769.1,613.8 L774.3,652.7 L779.6,645.4 L784.8,627.8 L790.0,639.1 L795.2,640.9 L800.4,637.5 L805.6,637.5 L810.8,644.8 L816.0,645.4 L821.3,663.1 L826.5,657.9 L831.7,633.7 L836.9,638.2 L842.1,657.9 L847.3,672.6 L852.5,683.9 L857.7,703.1 L863.0,712.6 L868.2,722.8 L873.4,708.7 L878.6,706.5 L883.8,708.7 L889.0,686.1 L894.2,677.1 L899.4,670.3 L904.7,657.9 L909.9,645.9 L915.1,644.8 L920.3,639.8 L925.5,651.1 L930.7,657.9 L935.9,644.8 L941.1,645.9 L946.4,662.4 L951.6,660.6 L956.8,666.2 L962.0,688.4 L967.2,678.9 L972.4,692.9 L977.6,697.4 L982.8,708.3 L988.1,704.2 L993.3,664.0 L998.5,688.4 L1003.7,692.9 L1008.9,695.2 L1014.1,691.8 L1019.3,703.1 L1024.5,703.1 L1029.8,719.6 L1035.0,723.0 L1040.2,678.9 L1045.4,670.8 L1050.6,673.7 L1055.8,651.1 L1061.0,643.9 L1066.2,661.7 L1071.5,655.6 L1076.7,648.8 L1081.9,634.6 L1087.1,647.2 L1092.3,648.8 L1097.5,641.6 L1102.7,641.6 L1107.9,646.6 L1113.2,648.8 L1118.4,655.6 L1123.6,657.9 L1128.8,676.0 L1134.0,691.3 L1139.2,691.3 L1144.4,690.7 L1149.6,670.3 L1154.9,686.6 L1160.1,678.2 L1165.3,677.8 L1170.5,680.9 L1175.7,699.7 L1180.9,678.2 L1186.1,683.4 L1191.3,646.1 L1196.6,643.2 L1201.8,618.8 L1207.0,612.0 L1212.2,626.9" stroke="#7e57c2" stroke-width="3"/>
</g>
<text x="10.3" y="19" font-size="13" fill="#131722" stroke="#131722" stroke-width="0" text-anchor="start" font-weight="normal" font-family="Liberation Sans, sans-serif"  textLength="360" lengthAdjust="spacingAndGlyphs">ranadagger published on TradingView.com, Apr 13, 2025 14:33 UTC</text>
<text x="18.5" y="46" font-size="12.2" fill="#131722" stroke="#131722" stroke-width="0.12" text-anchor="start" font-weight="normal" font-family="Liberation Sans, sans-serif"  textLength="137" lengthAdjust="spacingAndGlyphs">Kaspa / USDT · 1D · MEXC</text>
<text x="163.3" y="46" font-size="12.2" fill="#131722" stroke="#131722" stroke-width="0.12" text-anchor="start" font-weight="normal" font-family="Liberation Sans, sans-serif"  textLength="7.6" lengthAdjust="spacingAndGlyphs">O</text>
<text x="172.1" y="46" font-size="12.2" fill="#ef5350" stroke="#ef5350" stroke-width="0.12" text-anchor="start" font-weight="normal" font-family="Liberation Sans, sans-serif"  textLength="47.8" lengthAdjust="spacingAndGlyphs">0.077524</text>
<text x="227.3" y="46" font-size="12.2" fill="#131722" stroke="#131722" stroke-width="0.12" text-anchor="start" font-weight="normal" font-family="Liberation Sans, sans-serif"  textLength="7.3" lengthAdjust="spacingAndGlyphs">H</text>
<text x="235.8" y="46" font-size="12.2" fill="#ef5350" stroke="#ef5350" stroke-width="0.12" text-anchor="start" font-weight="normal" font-family="Liberation Sans, sans-serif"  textLength="47.5" lengthAdjust="spacingAndGlyphs">0.079395</text>
<text x="291.2" y="46" font-size="12.2" fill="#131722" stroke="#131722" stroke-width="0.12" text-anchor="start" font-weight="normal" font-family="Liberation Sans, sans-serif"  textLength="5.6" lengthAdjust="spacingAndGlyphs">L</text>
<text x="297.3" y="46" font-size="12.2" fill="#ef5350" stroke="#ef5350" stroke-width="0.12" text-anchor="start" font-weight="normal" font-family="Liberation Sans, sans-serif"  textLength="47.3" lengthAdjust="spacingAndGlyphs">0.073945</text>
<text x="352.4" y="46" font-size="12.2" fill="#131722" stroke="#131722" stroke-width="0.12" text-anchor="start" font-weight="normal" font-family="Liberation Sans, sans-serif"  textLength="7.2" lengthAdjust="spacingAndGlyphs">C</text>
<text x="359.8" y="46" font-size="12.2" fill="#ef5350" stroke="#ef5350" stroke-width="0.12" text-anchor="start" font-weight="normal" font-family="Liberation Sans, sans-serif"  textLength="47.8" lengthAdjust="spacingAndGlyphs">0.074276</text>
<text x="416" y="46" font-size="12.2" fill="#ef5350" stroke="#ef5350" stroke-width="0.12" text-anchor="start" font-weight="normal" font-family="Liberation Sans, sans-serif"  textLength="103" lengthAdjust="spacingAndGlyphs">−0.003248 (−4.19%)</text>
<text x="18.5" y="63" font-size="12.2" fill="#131722" stroke="#131722" stroke-width="0.12" text-anchor="start" font-weight="normal" font-family="Liberation Sans, sans-serif"  textLength="80.5" lengthAdjust="spacingAndGlyphs">EMA (20, close)</text>
<text x="107.6" y="63" font-size="12.2" fill="#2962ff" stroke="#2962ff" stroke-width="0.12" text-anchor="start" font-weight="normal" font-family="Liberation Sans, sans-serif"  textLength="48.2" lengthAdjust="spacingAndGlyphs">0.069874</text>
<text x="18.5" y="80" font-size="12.2" fill="#131722" stroke="#131722" stroke-width="0.12" text-anchor="start" font-weight="normal" font-family="Liberation Sans, sans-serif"  textLength="80.5" lengthAdjust="spacingAndGlyphs">SMA (50, close)</text>
<text x="107.2" y="80" font-size="12.2" fill="#f23645" stroke="#f23645" stroke-width="0.12" text-anchor="start" font-weight="normal" font-family="Liberation Sans, sans-serif"  textLength="48" lengthAdjust="spacingAndGlyphs">0.073955</text>
<text x="18.5" y="575" font-size="12.2" fill="#131722" stroke="#131722" stroke-width="0.12" text-anchor="start" font-weight="normal" font-family="Liberation Sans, sans-serif"  textLength="74.8" lengthAdjust="spacingAndGlyphs">RSI (14, close)</text>
<text x="101.8" y="575" font-size="12.2" fill="#7e57c2" stroke="#7e57c2" stroke-width="0.12" text-anchor="start" font-weight="normal" font-family="Liberation Sans, sans-serif"  textLength="28.8" lengthAdjust="spacingAndGlyphs">53.89</text>
<text x="138.8" y="575" font-size="12.2" fill="#fdd835" stroke="#fdd835" stroke-width="0.12" text-anchor="start" font-weight="normal" font-family="Liberation Sans, sans-serif"  textLength="28.9" lengthAdjust="spacingAndGlyphs">43.00</text>
<text x="175.7" y="575" font-size="10.8" fill="#131722" stroke="#131722" stroke-width="0.12" text-anchor="start" font-weight="normal" font-family="Liberation Sans, sans-serif" font-style="italic" textLength="7" lengthAdjust="spacingAndGlyphs">Ø</text>
<text x="191.8" y="575" font-size="10.8" fill="#131722" stroke="#131722" stroke-width="0.12" text-anchor="start" font-weight="normal" font-family="Liberation Sans, sans-serif" font-style="italic" textLength="7" lengthAdjust="spacingAndGlyphs">Ø</text>
<text x="206.9" y="575" font-size="10.8" fill="#131722" stroke="#131722" stroke-width="0.12" text-anchor="start" font-weight="normal" font-family="Liberation Sans, sans-serif" font-style="italic" textLength="7" lengthAdjust="spacingAndGlyphs">Ø</text>
<text x="221.7" y="575" font-size="10.8" fill="#131722" stroke="#131722" stroke-width="0.12" text-anchor="start" font-weight="normal" font-family="Liberation Sans, sans-serif" font-style="italic" textLength="7" lengthAdjust="spacingAndGlyphs">Ø</text>
<text x="1298.3" y="542" font-size="12" fill="#131722" stroke="#131722" stroke-width="0.12" text-anchor="start" font-weight="normal" font-family="Liberation Sans, sans-serif"  textLength="47.8" lengthAdjust="spacingAndGlyphs">0.050000</text>
<text x="1298.3" y="438" font-size="12" fill="#131722" stroke="#131722" stroke-width="0.12" text-anchor="start" font-weight="normal" font-family="Liberation Sans, sans-serif"  textLength="47.8" lengthAdjust="spacingAndGlyphs">0.080000</text>
<text x="1298.3" y="403" font-size="12" fill="#131722" stroke="#131722" stroke-width="0.12" text-anchor="start" font-weight="normal" font-family="Liberation Sans, sans-serif"  textLength="47.8" lengthAdjust="spacingAndGlyphs">0.090000</text>
<text x="1298.3" y="368" font-size="12" fill="#131722" stroke="#131722" stroke-width="0.12" text-anchor="start" font-weight="normal" font-family="Liberation Sans, sans-serif"  textLength="47.8" lengthAdjust="spacingAndGlyphs">0.100000</text>
<text x="1298.3" y="333" font-size="12" fill="#131722" stroke="#131722" stroke-width="0.12" text-anchor="start" font-weight="normal" font-family="Liberation Sans, sans-serif"  textLength="47.8" lengthAdjust="spacingAndGlyphs">0.110000</text>
<text x="1298.3" y="298" font-size="12" fill="#131722" stroke="#131722" stroke-width="0.12" text-anchor="start" font-weight="normal" font-family="Liberation Sans, sans-serif"  textLength="47.8" lengthAdjust="spacingAndGlyphs">0.120000</text>
<text x="1298.3" y="264" font-size="12" fill="#131722" stroke="#131722" stroke-width="0.12" text-anchor="start" font-weight="normal" font-family="Liberation Sans, sans-serif"  textLength="47.8" lengthAdjust="spacingAndGlyphs">0.130000</text>
<text x="1298.3" y="229" font-size="12" fill="#131722" stroke="#131722" stroke-width="0.12" text-anchor="start" font-weight="normal" font-family="Liberation Sans, sans-serif"  textLength="47.8" lengthAdjust="spacingAndGlyphs">0.140000</text>
<text x="1298.3" y="194" font-size="12" fill="#131722" stroke="#131722" stroke-width="0.12" text-anchor="start" font-weight="normal" font-family="Liberation Sans, sans-serif"  textLength="47.8" lengthAdjust="spacingAndGlyphs">0.150000</text>
<text x="1298.3" y="159" font-size="12" fill="#131722" stroke="#131722" stroke-width="0.12" text-anchor="start" font-weight="normal" font-family="Liberation Sans, sans-serif"  textLength="47.8" lengthAdjust="spacingAndGlyphs">0.160000</text>
<text x="1298.3" y="124" font-size="12" fill="#131722" stroke="#131722" stroke-width="0.12" text-anchor="start" font-weight="normal" font-family="Liberation Sans, sans-serif"  textLength="47.8" lengthAdjust="spacingAndGlyphs">0.170000</text>
<text x="1298.3" y="89" font-size="12" fill="#131722" stroke="#131722" stroke-width="0.12" text-anchor="start" font-weight="normal" font-family="Liberation Sans, sans-serif"  textLength="47.8" lengthAdjust="spacingAndGlyphs">0.180000</text>
<text x="1298.3" y="576" font-size="12" fill="#131722" stroke="#131722" stroke-width="0.12" text-anchor="start" font-weight="normal" font-family="Liberation Sans, sans-serif"  textLength="29" lengthAdjust="spacingAndGlyphs">70.00</text>
<text x="1298.3" y="610" font-size="12" fill="#131722" stroke="#131722" stroke-width="0.12" text-anchor="start" font-weight="normal" font-family="Liberation Sans, sans-serif"  textLength="29" lengthAdjust="spacingAndGlyphs">60.00</text>
<text x="1298.3" y="644" font-size="12" fill="#131722" stroke="#131722" stroke-width="0.12" text-anchor="start" font-weight="normal" font-family="Liberation Sans, sans-serif"  textLength="29" lengthAdjust="spacingAndGlyphs">50.00</text>
<text x="1298.3" y="679" font-size="12" fill="#131722" stroke="#131722" stroke-width="0.12" text-anchor="start" font-weight="normal" font-family="Liberation Sans, sans-serif"  textLength="29" lengthAdjust="spacingAndGlyphs">40.00</text>
<text x="1298.3" y="713" font-size="12" fill="#131722" stroke="#131722" stroke-width="0.12" text-anchor="start" font-weight="normal" font-family="Liberation Sans, sans-serif"  textLength="29" lengthAdjust="spacingAndGlyphs">30.00</text>
<rect x="1293" y="31" width="66" height="26" rx="4" fill="#fff" stroke="#eceef2" stroke-width="1"/>
<text x="1302.4" y="48.9" font-size="12" fill="#131722" stroke="#131722" stroke-width="0.12" text-anchor="start" font-weight="normal" font-family="Liberation Sans, sans-serif"  textLength="27.5" lengthAdjust="spacingAndGlyphs">USDT</text>
<path d="M1290,414 H1350 Q1352,414 1352,416 V428.8 Q1352,430.8 1350,430.8 H1290 Z" fill="#0000ff"/>
<text x="1298.3" y="427" font-size="12" fill="#fff" stroke="#fff" stroke-width="0.45" text-anchor="start" font-weight="normal" font-family="Liberation Sans, sans-serif"  textLength="47.8" lengthAdjust="spacingAndGlyphs">0.083029</text>
<path d="M1235.2,444 H1289 V461 H1235.2 Q1233.2,461 1233.2,459 V446 Q1233.2,444 1235.2,444 Z" fill="#ef5350"/>
<text x="1237.5" y="457" font-size="12" fill="#fff" stroke="#fff" stroke-width="0.45" text-anchor="start" font-weight="normal" font-family="Liberation Sans, sans-serif"  textLength="46.5" lengthAdjust="spacingAndGlyphs">KASUSDT</text>
<path d="M1290,444 H1350 Q1352,444 1352,446 V487 Q1352,489 1350,489 H1290 Z" fill="#ef5350"/>
<text x="1298.3" y="457" font-size="12" fill="#fff" stroke="#fff" stroke-width="0.45" text-anchor="start" font-weight="normal" font-family="Liberation Sans, sans-serif"  textLength="47.8" lengthAdjust="spacingAndGlyphs">0.074276</text>
<text x="1298.3" y="470.8" font-size="12" fill="#fff" stroke="#fff" stroke-width="0.45" text-anchor="start" font-weight="normal" font-family="Liberation Sans, sans-serif"  textLength="42.5" lengthAdjust="spacingAndGlyphs">−56.37%</text>
<text x="1298.3" y="484.5" font-size="12" fill="#f9d0cf" stroke="#f9d0cf" stroke-width="0.45" text-anchor="start" font-weight="normal" font-family="Liberation Sans, sans-serif"  textLength="46" lengthAdjust="spacingAndGlyphs">09:26:48</text>
<path d="M1241.1,489 H1289 V506 H1241.1 Q1239.1,506 1239.1,504 V491 Q1239.1,489 1241.1,489 Z" fill="#f23645"/>
<text x="1243.8" y="501.6" font-size="12" fill="#fff" stroke="#fff" stroke-width="0.45" text-anchor="start" font-weight="normal" font-family="Liberation Sans, sans-serif"  textLength="41.2" lengthAdjust="spacingAndGlyphs">SMA:MA</text>
<path d="M1290,489 H1350 Q1352,489 1352,491 V504 Q1352,506 1350,506 H1290 Z" fill="#f23645"/>
<text x="1298.3" y="501.6" font-size="12" fill="#fff" stroke="#fff" stroke-width="0.45" text-anchor="start" font-weight="normal" font-family="Liberation Sans, sans-serif"  textLength="47.8" lengthAdjust="spacingAndGlyphs">0.073955</text>
<path d="M1259.9,506.2 H1289 V523 H1259.9 Q1257.9,523 1257.9,521 V508.2 Q1257.9,506.2 1259.9,506.2 Z" fill="#2962ff"/>
<text x="1263" y="518.8" font-size="12" fill="#fff" stroke="#fff" stroke-width="0.45" text-anchor="start" font-weight="normal" font-family="Liberation Sans, sans-serif"  textLength="22" lengthAdjust="spacingAndGlyphs">EMA</text>
<path d="M1290,506 H1350 Q1352,506 1352,508 V521 Q1352,523 1350,523 H1290 Z" fill="#2962ff"/>
<text x="1298.3" y="518.8" font-size="12" fill="#fff" stroke="#fff" stroke-width="0.45" text-anchor="start" font-weight="normal" font-family="Liberation Sans, sans-serif"  textLength="47.8" lengthAdjust="spacingAndGlyphs">0.069874</text>
<path d="M1290,523 H1350 Q1352,523 1352,525 V538.2 Q1352,540.2 1350,540.2 H1290 Z" fill="#0000ff"/>
<text x="1298.3" y="535.9" font-size="12" fill="#fff" stroke="#fff" stroke-width="0.45" text-anchor="start" font-weight="normal" font-family="Liberation Sans, sans-serif"  textLength="47.8" lengthAdjust="spacingAndGlyphs">0.055457</text>
<path d="M1266,618.2 H1289 V634.8 H1266 Q1264,634.8 1264,632.8 V620.2 Q1264,618.2 1266,618.2 Z" fill="#7e57c2"/>
<text x="1269.1" y="631" font-size="12" fill="#fff" stroke="#fff" stroke-width="0.45" text-anchor="start" font-weight="normal" font-family="Liberation Sans, sans-serif"  textLength="15.8" lengthAdjust="spacingAndGlyphs">RSI</text>
<path d="M1290,618.2 H1330.8 Q1332.8,618.2 1332.8,620.2 V632.8 Q1332.8,634.8 1330.8,634.8 H1290 Z" fill="#7e57c2"/>
<text x="1298.3" y="631" font-size="12" fill="#fff" stroke="#fff" stroke-width="0.45" text-anchor="start" font-weight="normal" font-family="Liberation Sans, sans-serif"  textLength="28.8" lengthAdjust="spacingAndGlyphs">53.89</text>
<path d="M1212,656.1 H1289 V672.9 H1212 Q1210,672.9 1210,670.9 V658.1 Q1210,656.1 1212,656.1 Z" fill="#ffeb3b"/>
<text x="1214.7" y="669" font-size="12" fill="#131722" stroke="#131722" stroke-width="0.12" text-anchor="start" font-weight="normal" font-family="Liberation Sans, sans-serif"  textLength="70.2" lengthAdjust="spacingAndGlyphs">RSI-based MA</text>
<path d="M1290,656.1 H1330.8 Q1332.8,656.1 1332.8,658.1 V670.9 Q1332.8,672.9 1330.8,672.9 H1290 Z" fill="#ffeb3b"/>
<text x="1298.3" y="669" font-size="12" fill="#131722" stroke="#131722" stroke-width="0.12" text-anchor="start" font-weight="normal" font-family="Liberation Sans, sans-serif"  textLength="28.8" lengthAdjust="spacingAndGlyphs">43.00</text>
<text x="34.6" y="751" font-size="12" fill="#131722" stroke="#131722" stroke-width="0.12" text-anchor="start" font-weight="normal" font-family="Liberation Sans, sans-serif"  textLength="18.8" lengthAdjust="spacingAndGlyphs">Sep</text>
<text x="190.45000000000002" y="751" font-size="12" fill="#131722" stroke="#131722" stroke-width="0.12" text-anchor="start" font-weight="normal" font-family="Liberation Sans, sans-serif"  textLength="19.9" lengthAdjust="spacingAndGlyphs">Oct</text>
<text x="351.7" y="751" font-size="12" fill="#131722" stroke="#131722" stroke-width="0.12" text-anchor="start" font-weight="normal" font-family="Liberation Sans, sans-serif"  textLength="20.4" lengthAdjust="spacingAndGlyphs">Nov</text>
<text x="508.59999999999997" y="751" font-size="12" fill="#131722" stroke="#131722" stroke-width="0.12" text-anchor="start" font-weight="normal" font-family="Liberation Sans, sans-serif"  textLength="19.4" lengthAdjust="spacingAndGlyphs">Dec</text>
<text x="666.65" y="751" font-size="12" fill="#131722" stroke="#131722" stroke-width="0.12" text-anchor="start" font-weight="bold" font-family="Liberation Sans, sans-serif"  textLength="26.5" lengthAdjust="spacingAndGlyphs">2025</text>
<text x="832.0" y="751" font-size="12" fill="#131722" stroke="#131722" stroke-width="0.12" text-anchor="start" font-weight="normal" font-family="Liberation Sans, sans-serif"  textLength="19" lengthAdjust="spacingAndGlyphs">Feb</text>
<text x="977.75" y="751" font-size="12" fill="#131722" stroke="#131722" stroke-width="0.12" text-anchor="start" font-weight="normal" font-family="Liberation Sans, sans-serif"  textLength="19.5" lengthAdjust="spacingAndGlyphs">Mar</text>
<text x="1139.75" y="751" font-size="12" fill="#131722" stroke="#131722" stroke-width="0.12" text-anchor="start" font-weight="normal" font-family="Liberation Sans, sans-serif"  textLength="18.5" lengthAdjust="spacingAndGlyphs">Apr</text>
<g transform="translate(1212.6,542.4)"><circle r="11.2" fill="#fff"/><path d="M9.49,-2.81 A9.9,9.9 0 1 1 2.94,-9.45" fill="none" stroke="#9c27b0" stroke-width="1.3" stroke-linecap="round"/><path d="M2.4,-4.9 L-4.2,0.15 L-0.66,0.45 L-3.3,5.3 L3.96,0 L0.44,-0.3 Z" fill="#9c27b0"/><circle cx="6.8" cy="-6.85" r="2.55" fill="#f23645"/></g>
<g fill="#131722"><path d="M9.9,773.2 H17.9 V782.8 H13.3 V776.9 H9.9 Z"/><circle cx="21" cy="775.1" r="1.8"/><path d="M24.2,773.2 H29.9 L26.1,782.8 H21 Z"/></g>
<text x="33.2" y="783" font-size="13.01" fill="#131722" stroke="#131722" stroke-width="0.12" text-anchor="start" font-weight="normal" font-family="Liberation Sans, sans-serif"  textLength="69.8" lengthAdjust="spacingAndGlyphs">TradingView</text>
</svg></body></html>
